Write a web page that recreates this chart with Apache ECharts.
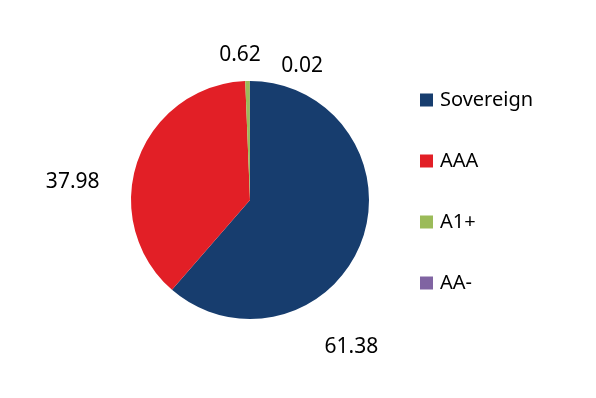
<!DOCTYPE html>
<html>
<head>
<meta charset="utf-8">
<script src="https://cdn.jsdelivr.net/npm/echarts@6/dist/echarts.min.js"></script>
<style>
html, body { margin: 0; padding: 0; background: #fff; }
#main { width: 596px; height: 398px; }
</style>
</head>
<body>
<div id="main"></div>
<script>
var myChart = echarts.init(document.getElementById('main'));

var categories = ['Sovereign', 'AAA', 'A1+', 'AA-'];
var values = [61.38, 37.98, 0.62, 0.02];
var colors = ['#173d6e', '#e21f26', '#9bbb59', '#8064a2'];

// nudge labels to where the original puts them
var labelShift = [[-86, 100], [6, 26], [116, -34], [108, 0]];

var pieData = categories.map(function (name, i) {
    return { name: name, value: values[i], itemStyle: { color: colors[i] } };
});

var option = {
    animation: false,
    legend: {
        orient: 'vertical',
        left: 415,
        top: 85,
        itemWidth: 13,
        itemHeight: 13,
        itemGap: 41,
        icon: 'rect',
        textStyle: { fontFamily: 'Noto Sans', fontSize: 20, color: '#000', padding: [0, 0, 0, 2] },
        data: categories
    },
    series: [
        {
            type: 'pie',
            center: [250, 200],
            radius: 119,
            startAngle: 90,
            clockwise: true,
            data: pieData,
            label: {
                show: true,
                position: 'outside',
                formatter: function (p) { return p.value.toFixed(2); },
                fontFamily: 'Noto Sans',
                fontSize: 21,
                color: '#000'
            },
            labelLine: { show: false },
            labelLayout: function (p) {
                var s = labelShift[p.dataIndex];
                return { dx: s[0], dy: s[1] };
            },
            emphasis: { disabled: true }
        }
    ]
};

myChart.setOption(option);
</script>
</body>
</html>
